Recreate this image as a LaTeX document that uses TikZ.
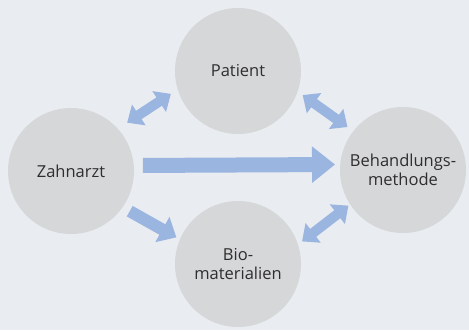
\documentclass[tikz,border=0pt]{standalone}
\usepackage{fontspec}
\setmainfont{Open Sans}
\usetikzlibrary{arrows.meta}
\definecolor{bgcol}{HTML}{E9ECF0}
\definecolor{circcol}{HTML}{D6D7D9}
\definecolor{arrcol}{HTML}{9AB5E0}
\definecolor{txtcol}{HTML}{2E2E2E}
\begin{document}
\begin{tikzpicture}[x=1pt,y=-1pt,
    bigarrow/.style={arrcol,line width=15pt,-{Triangle[width=35pt,length=23pt]}},
    midarrow/.style={arrcol,line width=12pt,-{Triangle[width=28pt,length=16pt]}},
    duoarrow/.style={arrcol,line width=10pt,{Triangle[width=24pt,length=14pt]}-{Triangle[width=24pt,length=14pt]}}]
            \fill[bgcol] (0,0) rectangle (469,330);
            \useasboundingbox (0,0) rectangle (469,330);
            \begin{scope}[every node/.style={circle,fill=circcol,minimum size=126pt,inner sep=0pt,text=txtcol,align=center,font=\fontsize{16.5}{19}\selectfont}]
                \node (zahn) at (71,171) {Zahnarzt};
                \node (pat) at (238,71) {Patient};
                \node (beh) at (403,170) {Behandlungs-\\methode};
                \node (bio) at (238,264) {Bio-\\materialien};
            \end{scope}
            \draw[bigarrow,shorten <=9pt,shorten >=5pt] (zahn.5) -- (beh.175);
            \draw[duoarrow,shorten <=11pt,shorten >=8pt] (zahn.42) -- (pat.197);
            \draw[duoarrow,shorten <=6pt,shorten >=7pt] (pat.-19) -- (beh.142);
            \draw[midarrow,shorten <=8pt,shorten >=4pt] (zahn.-35) -- (bio.157);
            \draw[duoarrow,shorten <=5pt,shorten >=2pt] (bio.18) -- (beh.213);
        \end{tikzpicture}
\end{document}
